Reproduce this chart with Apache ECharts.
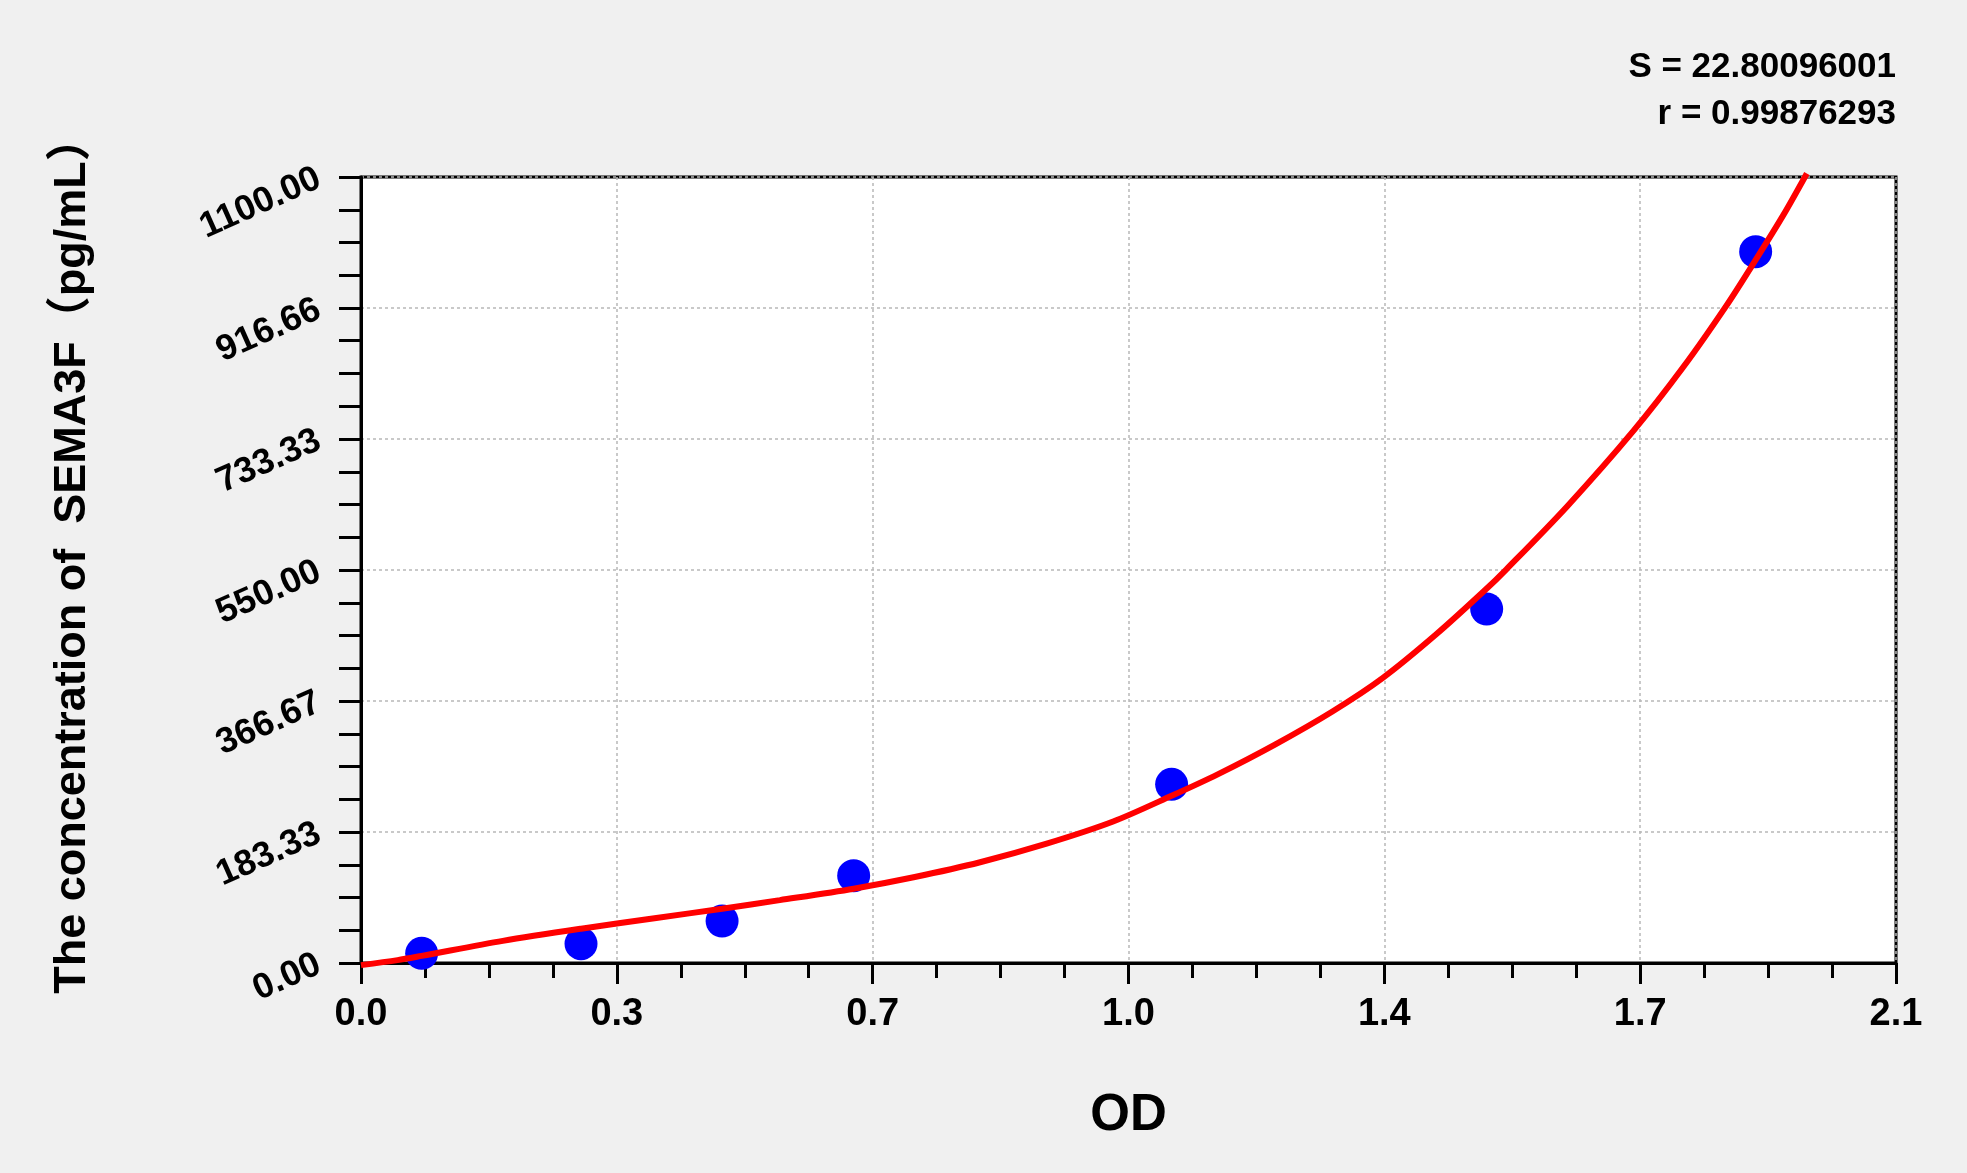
<!DOCTYPE html>
<html>
<head>
<meta charset="utf-8">
<script src="https://cdn.jsdelivr.net/npm/echarts@6/dist/echarts.min.js"></script>
<style>
html,body{margin:0;padding:0;background:#f0f0f0;}
#chart{width:1967px;height:1173px;}
</style>
</head>
<body>
<div id="chart"></div>
<script>
// Standard points (OD, concentration)
const pointOD   = [0.083, 0.301, 0.494, 0.674, 1.109, 1.540, 1.908];
const pointConc = [13.5, 27, 58.8, 122.2, 250, 495.4, 995.5];

// Fitted curve
const curveOD   = [0.000, 0.050, 0.083, 0.194, 0.301, 0.404, 0.494, 0.573, 0.674, 0.756, 0.847, 0.938, 1.029, 1.109, 1.172, 1.251, 1.329, 1.398, 1.471, 1.539, 1.567, 1.650, 1.741, 1.809, 1.868, 1.908, 1.946, 1.978];
const curveConc = [-3, 4, 10, 31, 48, 63, 76, 88, 104, 120, 141, 167, 198, 234, 264, 306, 352, 399, 460, 523, 551, 639, 745, 834, 920, 984, 1047, 1105];

// Tick labels
const xTickLabels = ['0.0', '0.3', '0.7', '1.0', '1.4', '1.7', '2.1'];
const yTickLabels = ['0.00', '183.33', '366.67', '550.00', '733.33', '916.66', '1100.00'];

const statLines = ['S = 22.80096001', 'r = 0.99876293'];

const FONT = "'Liberation Sans', Arial, 'Noto Sans CJK SC', sans-serif";
const xStep = 0.35, yStep = 1100 / 6;

const chart = echarts.init(document.getElementById('chart'));
chart.setOption({
  backgroundColor: '#f0f0f0',
  animation: false,
  title: [
    { text: statLines[0], right: 71, top: 50, padding: 0,
      textStyle: { fontFamily: FONT, fontSize: 35, fontWeight: 'bold', color: '#000' } },
    { text: statLines[1], right: 71, top: 97, padding: 0,
      textStyle: { fontFamily: FONT, fontSize: 35, fontWeight: 'bold', color: '#000' } }
  ],
  grid: {
    left: 361, right: 71, top: 177, bottom: 210,
    show: true, backgroundColor: '#ffffff', borderColor: '#000', borderWidth: 3
  },
  xAxis: {
    type: 'value', min: 0, max: 2.1, interval: xStep,
    name: 'OD', nameLocation: 'middle', nameGap: 127,
    nameTextStyle: { fontFamily: FONT, fontSize: 51, fontWeight: 'bold', color: '#000' },
    axisLine: { show: true, lineStyle: { color: '#000', width: 3 } },
    axisTick: { show: true, length: 21, lineStyle: { color: '#000', width: 3 } },
    minorTick: { show: true, splitNumber: 4, length: 15, lineStyle: { color: '#000', width: 3 } },
    axisLabel: {
      fontFamily: FONT, fontSize: 38, fontWeight: 'bold', color: '#000', margin: 33,
      formatter: v => xTickLabels[Math.round(v / xStep)] || ''
    },
    splitLine: { show: true, lineStyle: { color: '#b8b8b8', width: 1.5, type: [3, 3] } }
  },
  yAxis: {
    type: 'value', min: 0, max: 1100, interval: yStep,
    name: 'The concentration of  SEMA3F（pg/mL）', nameLocation: 'middle', nameGap: 266,
    nameTextStyle: { fontFamily: FONT, fontSize: 45, fontWeight: 'bold', color: '#000', padding: [0, 0, 0, 30] },
    axisLine: { show: true, lineStyle: { color: '#000', width: 3 } },
    axisTick: { show: true, length: 22, lineStyle: { color: '#000', width: 3 } },
    minorTick: { show: true, splitNumber: 4, length: 22, lineStyle: { color: '#000', width: 3 } },
    axisLabel: {
      fontFamily: FONT, fontSize: 36, fontWeight: 'bold', color: '#000', margin: 42, rotate: 24,
      formatter: v => yTickLabels[Math.round(v / yStep)] || ''
    },
    splitLine: { show: true, lineStyle: { color: '#b8b8b8', width: 1.5, type: [3, 3] } }
  },
  series: [
    {
      type: 'scatter', z: 2,
      symbol: 'circle', symbolSize: 33,
      itemStyle: { color: '#0000ff', opacity: 1 },
      data: pointOD.map((x, i) => [x, pointConc[i]])
    },
    {
      type: 'line', z: 3, clip: false,
      smooth: 0.3, showSymbol: false, symbol: 'none',
      lineStyle: { color: '#ff0000', width: 6 },
      data: curveOD.map((x, i) => [x, curveConc[i]])
    }
  ]
});
</script>
</body>
</html>
